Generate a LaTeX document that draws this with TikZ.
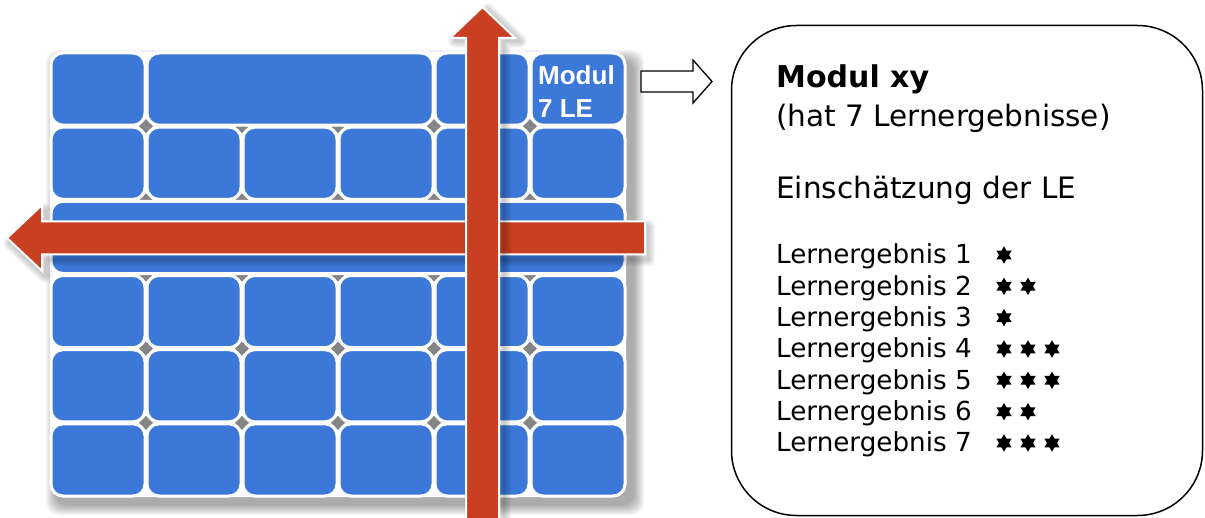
\documentclass[tikz,border=0pt]{standalone}
\usepackage{fontspec}
\setmainfont{DejaVu Sans}
\newfontfamily\tilefont{Liberation Sans}
\usetikzlibrary{shapes.geometric}
\definecolor{tileblue}{HTML}{3B78D8}
\definecolor{arrowred}{HTML}{C93F21}
\definecolor{seamgray}{HTML}{858585}
\tikzset{
  tile/.style={fill=tileblue, draw=white, line width=3pt, rounded corners=12pt,
    inner sep=0pt, minimum height=72.17pt},
  redarrow/.style={fill=arrowred, draw=white, line width=2pt, line join=miter},
  hexstar/.style={star, star points=6, star point ratio=1.732, fill=black,
    inner sep=0pt, minimum size=17.5pt},
  bigtext/.style={anchor=base west, inner sep=0pt, font=\fontsize{29.5}{34}\selectfont},
  listtext/.style={anchor=base west, inner sep=0pt, font=\fontsize{26.2}{30}\selectfont},
  tilelabel/.style={anchor=base west, inner sep=0pt, text=white,
    font=\tilefont\bfseries\fontsize{26}{30}\selectfont},
}
\begin{document}
\begin{tikzpicture}[x=1pt, y=-1pt]
\useasboundingbox (0,0) rectangle (1205,518);

% soft shadow under the tile grid
\foreach \e in {0,...,10}
  \fill[black, opacity=0.035, rounded corners=12pt]
    ({56-\e},{60-\e}) rectangle ({634+\e},{505+\e});
\fill[white, rounded corners=12pt] (50,52) rectangle (626,497);

% small seams where the rounded tile corners meet
\foreach \sx in {146,242,338,434,530}
  \foreach \sy in {126.17,200.34,274.51,348.68,422.85}
    \fill[seamgray] (\sx,\sy-7) -- (\sx+7,\sy) -- (\sx,\sy+7) -- (\sx-7,\sy) -- cycle;

% row 1: single, triple-wide, single, module tile
\node[tile, minimum width=94pt]  (t11) at (98,89.08) {};
\node[tile, minimum width=286pt] (t12) at (290,89.08) {};
\node[tile, minimum width=94pt]  (t15) at (482,89.08) {};
\node[tile, minimum width=94pt]  (t16) at (578,89.08) {};
% row 3: one bar across the whole width
\node[tile, minimum width=574pt] (t3) at (338,237.43) {};
% rows 2, 4, 5, 6: six tiles each
\foreach \r in {2,4,5,6}
  \foreach \c in {1,...,6}
    \node[tile, minimum width=94pt] (t\r\c) at ({50+96*(\c-0.5)},{52+74.17*(\r-0.5)}) {};

\node[tilelabel] (m1) at (538,85) {Modul};
\node[tilelabel] (m2) at (538,118) {7 LE};

% horizontal arrow pointing left
\foreach \e in {2,4,...,14}
  \draw[black, draw opacity=0.03, line width=\e pt, line join=round, shift={(3,5)}]
    (645,221.5) -- (42,221.5) -- (42,205) -- (7,238) -- (42,271) -- (42,254.5) -- (645,254.5) -- cycle;
\draw[redarrow] (645,221.5) -- (42,221.5) -- (42,205) -- (7,238) -- (42,271)
  -- (42,254.5) -- (645,254.5) -- cycle;

% vertical arrow pointing up
\foreach \e in {2,4,...,14}
  \draw[black, draw opacity=0.03, line width=\e pt, line join=round, shift={(5,3)}]
    (466,530) -- (466,38) -- (450,38) -- (482.5,7) -- (515,38) -- (499,38) -- (499,530) -- cycle;
\draw[redarrow] (466,530) -- (466,38) -- (450,38) -- (482.5,7) -- (515,38)
  -- (499,38) -- (499,530) -- cycle;

% outlined arrow from the module tile to the description
\coordinate (a0) at (641,81.5);
\draw[black, line width=1.3pt, fill=white, line join=miter]
  (a0) ++(0,-10.5) -- ++(52,0) -- ++(0,-11) -- (712,81.5) -- (693,103)
  -- (693,92) -- (641,92) -- cycle;

% description box
\node[draw=black, line width=1.5pt, rounded corners=65pt, minimum width=471pt,
  minimum height=490pt, inner sep=0pt] (box) at (967,270.5) {};

\node[bigtext, font=\bfseries\fontsize{30}{34}\selectfont] (title) at (776,88) {Modul xy};
\node[bigtext] (sub) at (776,127) {(hat 7 Lernergebnisse)};
\node[bigtext] (head) at (776,199) {Einschätzung der LE};

\foreach \n/\k in {1/1,2/2,3/1,4/3,5/3,6/2,7/3} {
  \pgfmathsetmacro\yb{264+(\n-1)*31.33}
  \node[listtext] (le\n) at (776,\yb) {Lernergebnis \n};
  \foreach \j in {1,...,\k}
    \node[hexstar] (s\n\j) at ({1004+(\j-1)*24},{\yb-9}) {};
}
\end{tikzpicture}
\end{document}
